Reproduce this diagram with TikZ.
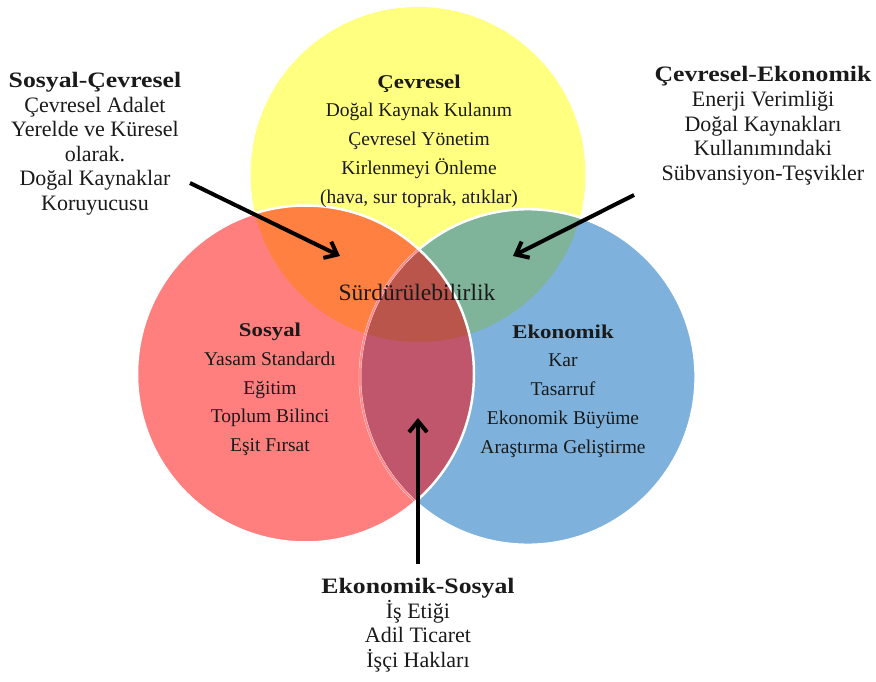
\documentclass[tikz,border=0pt]{standalone}
\usepackage{fontspec}
\setmainfont{Liberation Serif}
\newfontface\headfont{Liberation Serif Bold}[FakeStretch=1.17]
\usetikzlibrary{arrows.meta}
\lineskiplimit=-20pt
\definecolor{cyel}{HTML}{FFFF80}
\definecolor{cred}{HTML}{FF7F7F}
\definecolor{cblue}{HTML}{7EB2DC}
\definecolor{corange}{HTML}{FF8040}
\definecolor{cgreen}{HTML}{7FB39A}
\definecolor{cpurple}{HTML}{C0566B}
\definecolor{ccenter}{HTML}{B9554B}
\definecolor{crim}{HTML}{FF8A8C}
\definecolor{ctext}{HTML}{1A1A1A}
\def\circY{(418,174.5) circle[radius=167.5pt]}
\def\circR{(305.5,374) circle[radius=168.5pt]}
\def\circB{(527.8,377) circle[radius=167.8pt]}
\tikzset{
  outer/.style={align=center, anchor=north, inner sep=0pt, text=ctext,
    font=\fontsize{22}{24.6}\selectfont},
  inner/.style={align=center, anchor=north, inner sep=0pt, text=ctext,
    font=\fontsize{19.5}{28.7}\selectfont},
  pointer/.style={line width=4pt, -{Straight Barb[length=11pt,width=18pt]}}
}
\begin{document}
\begin{tikzpicture}[x=1pt,y=-1pt]
\useasboundingbox (0,0) rectangle (876,682);
% base circles
\fill[cyel] \circY;
\fill[cred] \circR;
\fill[cblue] \circB;
% pairwise intersections
\begin{scope}\clip \circY; \fill[corange] \circR; \end{scope}
\begin{scope}\clip \circY; \fill[cgreen] \circB; \end{scope}
\begin{scope}\clip \circR; \fill[cpurple] \circB; \end{scope}
\begin{scope}\clip \circY; \clip \circR; \fill[ccenter] \circB; \end{scope}
% rims
\draw[white, line width=2.5pt] \circB;
\begin{scope}\clip \circR; \draw[crim, line width=2pt] \circB; \end{scope}
\draw[white, line width=2.5pt] \circR;

% texts
\node[outer] (sc) at (95,72) {{\headfont Sosyal-Çevresel}\\Çevresel Adalet\\Yerelde ve Küresel\\olarak.\\Doğal Kaynaklar\\Koruyucusu};
\node[inner] (cv) at (419,74.5) {{\headfont Çevresel}\\Doğal Kaynak Kulanım\\Çevresel Yönetim\\Kirlenmeyi Önleme\\(hava, sur toprak, atıklar)};
\node[outer] (ce) at (763,66.5) {{\headfont Çevresel-Ekonomik}\\Enerji Verimliği\\Doğal Kaynakları\\Kullanımındaki\\Sübvansiyon-Teşvikler};
\node[inner] (so) at (270,323) {{\headfont Sosyal}\\Yasam Standardı\\Eğitim\\Toplum Bilinci\\Eşit Fırsat};
\node[inner] (ek) at (563,324.5) {{\headfont Ekonomik}\\Kar\\Tasarruf\\Ekonomik Büyüme\\Araştırma Geliştirme};
\node[outer] (es) at (418,578) {{\headfont Ekonomik-Sosyal}\\İş Etiği\\Adil Ticaret\\İşçi Hakları};
\node[anchor=base, inner sep=0pt, text=ctext, font=\fontsize{23.5}{28}\selectfont] (su) at (417,300) {Sürdürülebilirlik};

% arrows
\coordinate (scA) at (190,183);
\coordinate (scB) at (340,256);
\coordinate (ceA) at (634,195);
\coordinate (ceB) at (513,256);
\coordinate (esA) at (418,564);
\coordinate (esB) at (418,418);
\draw[pointer] (scA) -- (scB);
\draw[pointer] (ceA) -- (ceB);
\draw[pointer] (esA) -- (esB);
\end{tikzpicture}
\end{document}
